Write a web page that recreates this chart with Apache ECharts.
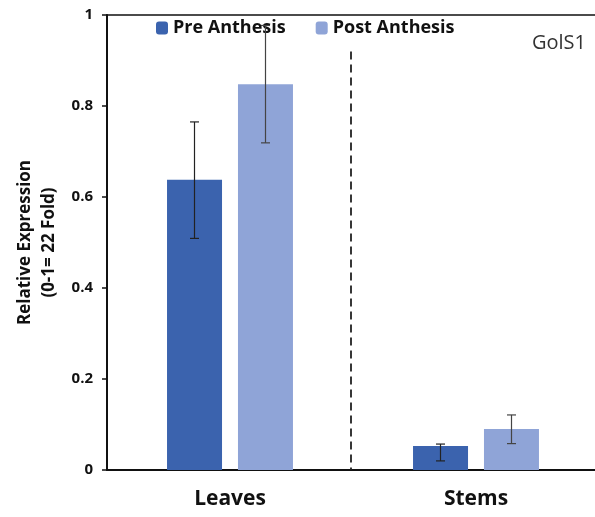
<!DOCTYPE html>
<html>
<head>
<meta charset="utf-8">
<script src="https://cdn.jsdelivr.net/npm/echarts@6/dist/echarts.min.js"></script>
<style>
  html, body { margin: 0; padding: 0; background: #fff; }
  #chart { width: 595px; height: 517px; }
</style>
</head>
<body>
<div id="chart"></div>
<script>
var categories = ['Leaves', 'Stems'];
var seriesNames = ['Pre Anthesis', 'Post Anthesis'];
var preValues = [0.638, 0.053];
var postValues = [0.848, 0.090];
// error bar bounds [low, high]
var preErr = [[0.509, 0.765], [0.020, 0.057]];
var postErr = [[0.719, 0.977], [0.058, 0.121]];
var yTicks = [0, 0.2, 0.4, 0.6, 0.8, 1];
// dashed divider between the two groups: [x position in group units, top, bottom]
var divider = [[1, 0.92, 0]];

var BAR_W = 55;
var BAR_OFFSET = 35.5;   // half distance between bar centres in a group
var FONT = '"Open Sans", sans-serif';

function errSeries(name, errs, side, color) {
    return {
        name: name + ' err',
        type: 'custom',
        z: 5,
        silent: true,
        data: errs.map(function (e, i) { return [i, e[0], e[1]]; }),
        renderItem: function (params, api) {
            var lo = api.coord([api.value(0), api.value(1)]);
            var hi = api.coord([api.value(0), api.value(2)]);
            var x = lo[0] + side * BAR_OFFSET;
            var cap = 4.5;
            var st = { stroke: color, lineWidth: 1.2 };
            return {
                type: 'group',
                children: [
                    { type: 'line', shape: { x1: x, y1: lo[1], x2: x, y2: hi[1] }, style: st },
                    { type: 'line', shape: { x1: x - cap, y1: lo[1], x2: x + cap, y2: lo[1] }, style: st },
                    { type: 'line', shape: { x1: x - cap, y1: hi[1], x2: x + cap, y2: hi[1] }, style: st }
                ]
            };
        }
    };
}

var myChart = echarts.init(document.getElementById('chart'));

var option = {
    backgroundColor: '#fff',
    animation: false,
    color: ['#3b63ae', '#8fa4d7'],
    title: {
        text: 'GolS1',
        right: 4,
        top: 28,
        textStyle: { fontFamily: FONT, fontSize: 20, fontWeight: 'normal', color: '#333' }
    },
    legend: {
        top: 14,
        left: 151,
        itemWidth: 12,
        itemHeight: 13,
        itemGap: 30,
        data: seriesNames,
        textStyle: { fontFamily: FONT, fontSize: 18, fontWeight: 'bold', color: '#111' }
    },
    grid: { left: 107, top: 15, width: 492, bottom: 47, outerBoundsMode: 'none', containLabel: false },
    xAxis: [
        {
            type: 'category',
            data: categories,
            axisLine: { lineStyle: { color: '#111', width: 2 } },
            axisTick: { show: false },
            axisLabel: { margin: 19, fontFamily: FONT, fontSize: 21, fontWeight: 'bold', color: '#111' }
        },
        {
            type: 'value',
            min: 0,
            max: 2,
            position: 'top',
            axisLine: { show: true, lineStyle: { color: '#111', width: 1.5 } },
            axisTick: { show: false },
            axisLabel: { show: false },
            splitLine: { show: false }
        }
    ],
    yAxis: {
        type: 'value',
        min: 0,
        max: 1,
        interval: 0.2,
        name: 'Relative Expression\n(0-1= 22 Fold)',
        nameLocation: 'middle',
        nameGap: 37,
        nameTextStyle: { fontFamily: FONT, fontSize: 17, fontWeight: 'bold', color: '#111', lineHeight: 24 },
        axisLine: { show: true, lineStyle: { color: '#111', width: 2 } },
        axisTick: { show: true, length: 5, lineStyle: { color: '#111', width: 1.5 } },
        splitLine: { show: false },
        axisLabel: {
            margin: 14,
            fontFamily: FONT, fontSize: 15, fontWeight: 'bold', color: '#111',
            formatter: function (v) { return yTicks.indexOf(v) >= 0 ? String(v) : ''; }
        }
    },
    series: [
        {
            name: seriesNames[0],
            type: 'bar',
            barWidth: BAR_W,
            barGap: '29%',
            data: preValues
        },
        {
            name: seriesNames[1],
            type: 'bar',
            barWidth: BAR_W,
            data: postValues
        },
        errSeries(seriesNames[0], preErr, -1, '#222'),
        errSeries(seriesNames[1], postErr, 1, '#444'),
        {
            name: 'divider',
            type: 'custom',
            xAxisIndex: 1,
            silent: true,
            data: divider,
            renderItem: function (params, api) {
                var a = api.coord([api.value(0), api.value(1)]);
                var b = api.coord([api.value(0), api.value(2)]);
                return {
                    type: 'line',
                    shape: { x1: a[0] - 2, y1: a[1], x2: b[0] - 2, y2: b[1] },
                    style: { stroke: '#222', lineWidth: 1.8, lineDash: [8, 5] }
                };
            }
        }
    ]
};

myChart.setOption(option);
</script>
</body>
</html>
